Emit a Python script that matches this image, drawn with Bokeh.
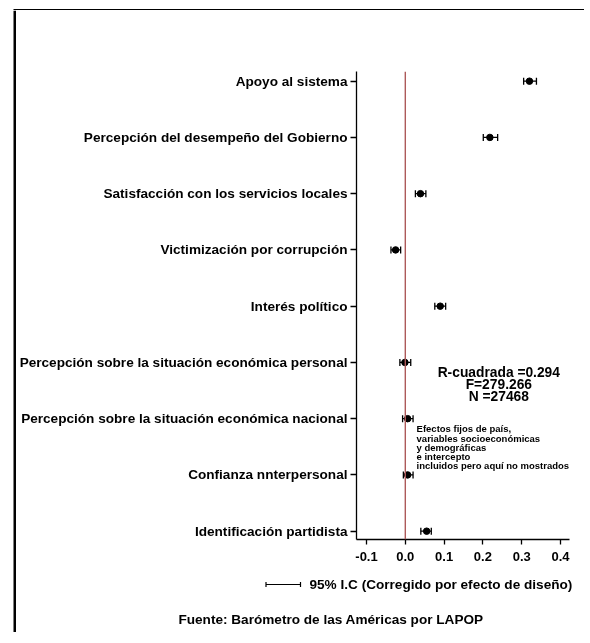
from bokeh.plotting import figure
from bokeh.layouts import column, row
from bokeh.models import (ColumnDataSource, Whisker, TeeHead, Span, Label,
                          FixedTicker, Range1d, InlineStyleSheet)
from bokeh.embed import file_html
from bokeh.resources import INLINE

# ---------------- data ----------------
categories = [
    "Apoyo al sistema",
    "Percepción del desempeño del Gobierno",
    "Satisfacción con los servicios locales",
    "Victimización por corrupción",
    "Interés político",
    "Percepción sobre la situación económica personal",
    "Percepción sobre la situación económica nacional",
    "Confianza nnterpersonal",
    "Identificación partidista",
]
coef = [0.320, 0.218, 0.039, -0.025, 0.090, -0.001, 0.006, 0.006, 0.055]
ci_low = [0.305, 0.201, 0.026, -0.037, 0.076, -0.014, -0.007, -0.005, 0.040]
ci_high = [0.338, 0.238, 0.053, -0.012, 0.104, 0.014, 0.020, 0.020, 0.067]
x_ticks = [-0.1, 0.0, 0.1, 0.2, 0.3, 0.4]
x_tick_labels = ["-0.1", "0.0", "0.1", "0.2", "0.3", "0.4"]
stats_lines = ["R-cuadrada =0.294", "F=279.266", "N =27468"]
note_lines = ["Efectos fijos de país,", "variables socioeconómicas",
              "y demográficas", "e intercepto",
              "incluidos pero aquí no mostrados"]
legend_text = "95% I.C (Corregido por efecto de diseño)"
source_text = "Fuente: Barómetro de las Américas por LAPOP"

FONT = "Liberation Sans"
n = len(categories)
ypos = [n - i for i in range(n)]

src = ColumnDataSource(dict(y=ypos, coef=coef, lo=ci_low, hi=ci_high, cat=categories))

NOSCROLL = InlineStyleSheet(css=":host { overflow: hidden !important; } "
                                "::-webkit-scrollbar { display: none; width: 0; height: 0; }")


def blank(width, height, xr, yr):
    f = figure(width=width, height=height, output_backend="svg", toolbar_location=None,
               x_range=Range1d(*xr), y_range=Range1d(*yr), min_border=0,
               x_axis_type=None, y_axis_type=None)
    f.frame_align = False
    f.outline_line_color = None
    f.grid.grid_line_color = None
    f.border_fill_color = "white"
    f.background_fill_color = "white"
    return f


# ---------------- main plot ----------------
W, H = 568, 560
p = figure(width=W, height=H, output_backend="svg", toolbar_location=None,
           x_range=Range1d(-0.1258, 0.4232), y_range=Range1d(0.852, 9.172),
           min_border_left=340, min_border_right=15, min_border_top=61,
           min_border_bottom=31)
p.frame_align = False
p.outline_line_color = None
p.grid.grid_line_color = None
p.background_fill_color = "white"
p.border_fill_color = "white"

p.xaxis.ticker = FixedTicker(ticks=x_ticks)
p.xaxis.major_label_overrides = {t: l for t, l in zip(x_ticks, x_tick_labels)}
p.yaxis.ticker = FixedTicker(ticks=ypos)
p.yaxis.major_label_overrides = {y: c for y, c in zip(ypos, categories)}
for ax in (p.xaxis, p.yaxis):
    ax.axis_line_color = "black"
    ax.axis_line_width = 1.3
    ax.major_tick_line_color = "black"
    ax.major_tick_line_width = 1.3
    ax.major_tick_in = 0
    ax.minor_tick_line_color = None
    ax.major_label_text_font = FONT
    ax.major_label_text_font_style = "bold"
    ax.major_label_text_color = "black"
p.xaxis.major_tick_out = 5
p.xaxis.major_label_standoff = 7
p.xaxis.major_label_text_font_size = "13px"
p.yaxis.major_tick_out = 6
p.yaxis.major_label_standoff = 3
p.yaxis.major_label_text_font_size = "13.6px"

p.add_layout(Span(location=0, dimension="height", line_color="#ad5a5a", line_width=1.4))

wh = Whisker(source=src, base="y", lower="lo", upper="hi", dimension="width",
             line_color="black", line_width=1.3,
             lower_head=TeeHead(size=7, line_color="black", line_width=1.3),
             upper_head=TeeHead(size=7, line_color="black", line_width=1.3))
p.add_layout(wh)
p.scatter(x="coef", y="y", source=src, size=6.5, color="black")

stats_y = [3.821, 3.608, 3.395]
for t, yy in zip(stats_lines, stats_y):
    p.add_layout(Label(x=0.241, y=yy, text=t, text_align="center", text_baseline="middle",
                       text_font=FONT, text_font_style="bold", text_font_size="13.8px",
                       text_color="black"))
note_y = [2.820, 2.653, 2.493, 2.333, 2.173]
for t, yy in zip(note_lines, note_y):
    p.add_layout(Label(x=0.029, y=yy, text=t, text_align="left", text_baseline="middle",
                       text_font=FONT, text_font_style="bold", text_font_size="9.5px",
                       text_color="black"))

# ---------------- footer (legend + source) ----------------
FW, FH = 568, 62
foot = blank(FW, FH, (16, 16 + FW), (570 + FH, 570))
leg_src = ColumnDataSource(dict(b=[584], lo=[265.5], hi=[300]))
foot.add_layout(Whisker(source=leg_src, base="b", lower="lo", upper="hi", dimension="width",
                        line_color="black", line_width=1.2,
                        lower_head=TeeHead(size=5, line_color="black", line_width=1.2),
                        upper_head=TeeHead(size=5, line_color="black", line_width=1.2)))
foot.add_layout(Label(x=309, y=584, text=legend_text, text_align="left",
                      text_baseline="middle", text_font=FONT, text_font_style="bold",
                      text_font_size="13.6px", text_color="black"))
foot.add_layout(Label(x=330.5, y=619, text=source_text, text_align="center",
                      text_baseline="middle", text_font=FONT, text_font_style="bold",
                      text_font_size="13.6px", text_color="black"))

# ---------------- outer frame strips (left and top edges) ----------------
TW, TH = 16 + W, 10
top = blank(TW, TH, (0, TW), (TH, 0))
top.quad(left=[13], right=[TW], top=[6.5], bottom=[12], color="black", line_width=0)
LH = H + FH
left = blank(16, LH, (0, 16), (10 + LH, 10))
left.quad(left=[13], right=[16], top=[10], bottom=[10 + LH], color="black", line_width=0)

inner = column(p, foot, spacing=0, stylesheets=[NOSCROLL])
mid = row(left, inner, spacing=0, stylesheets=[NOSCROLL])
layout = column(top, mid, spacing=0, stylesheets=[NOSCROLL],
                styles={"position": "fixed", "top": "0px", "left": "0px"})

open("out.html", "w").write(file_html(layout, INLINE))
